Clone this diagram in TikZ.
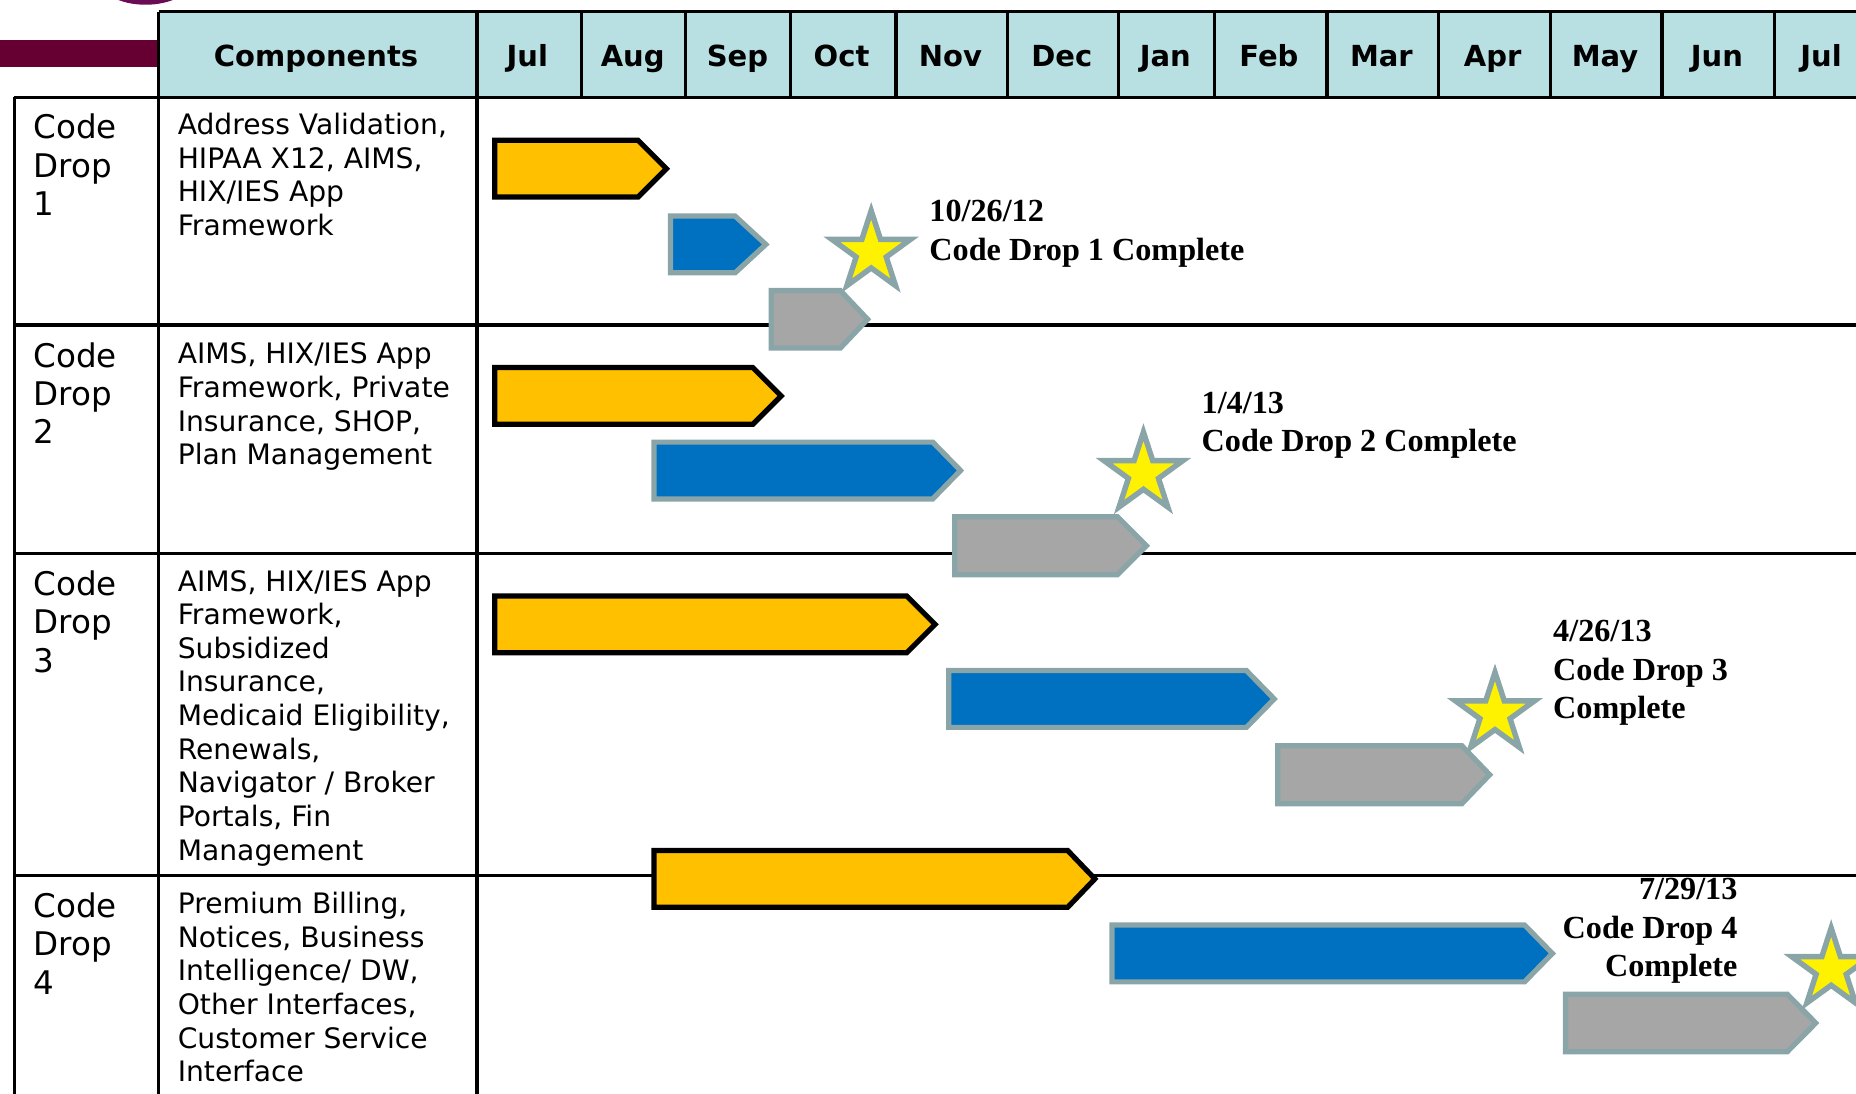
\documentclass[tikz,border=0pt]{standalone}
\usepackage{fontspec}
\setmainfont{DejaVu Sans}
\newfontfamily\serifbold[BoldFont=Liberation Serif Bold]{Liberation Serif}
\usetikzlibrary{shapes.geometric}
\definecolor{hdr}{HTML}{B8DFE2}
\definecolor{maroon}{HTML}{660033}
\definecolor{plum}{HTML}{6B0A55}
\definecolor{barY}{HTML}{FFC000}
\definecolor{barB}{HTML}{0070C0}
\definecolor{barG}{HTML}{A6A6A6}
\definecolor{edgeG}{HTML}{8AA5A8}
\tikzset{
  x=1pt,y=-1pt,
  gridline/.style={line width=2.8pt,black},
  ybar/.style={fill=barY,draw=black,line width=4.4pt,line join=miter},
  bbar/.style={fill=barB,draw=edgeG,line width=4.4pt,line join=miter},
  gbar/.style={fill=barG,draw=edgeG,line width=4.4pt,line join=miter},
  milestone/.style={star,star points=5,star point ratio=2.618,draw=edgeG,fill=yellow,line width=4.6pt,minimum size=70pt,inner sep=0pt,outer sep=0pt},
  headtext/.style={anchor=base,inner sep=0pt,font=\fontsize{24.5}{28}\selectfont\bfseries},
  droptext/.style={anchor=north west,align=left,inner sep=0pt,font=\fontsize{27.5}{32.5}\selectfont},
  comptext/.style={anchor=north west,align=left,inner sep=0pt,font=\fontsize{23.8}{28.4}\selectfont},
  notetext/.style={inner sep=0pt,font=\fontsize{27.2}{32.5}\selectfont\serifbold\bfseries}
}
\newcommand{\pbar}[6]{% style, x1, x2, tip start, y1, y2
  \path[#1] (#2,#5) -- (#4,#5) -- (#3,{(#5+#6)/2}) -- (#4,#6) -- (#2,#6) -- cycle;}
\begin{document}
\begin{tikzpicture}
\useasboundingbox (0,0) rectangle (1568,923.4);
% top decoration
\fill[plum] (123,-18) ellipse [x radius=40,y radius=22];
\fill[maroon] (0,34) rectangle (134,57);
% header
\fill[hdr] (134,10) rectangle (1568,82);
\draw[gridline] (134,10) -- (1568,10);
\draw[gridline] (12,82.5) -- (1568,82.5);
\foreach \v in {491,579,668,757,851,945,1026,1121,1215,1310,1404,1499}
  \draw[gridline] (\v,10) -- (\v,82);
\draw[gridline] (134,10) -- (134,924);
\draw[gridline] (403,10) -- (403,924);
\draw[gridline] (12,82) -- (12,924);
\foreach \h in {274.5,467.5,739.5}
  \draw[gridline] (12,\h) -- (1568,\h);
% header text
\node[headtext] (hc) at (267,56) {Components};
\foreach \n/\c/\t in {m1/445.5/Jul,m2/534.5/Aug,m3/623/Sep,m4/711/Oct,m5/803/Nov,m6/897/Dec,m7/984.5/Jan,m8/1072/Feb,m9/1167/Mar,m10/1261/Apr,m11/1356/May,m12/1450.5/Jun,m13/1538.5/Jul}
  \node[headtext] (\n) at (\c,56) {\t};
% first column
\node[droptext] (d1) at (28,96) {Code\\Drop\\1};
\node[droptext] (d2) at (28,289) {Code\\Drop\\2};
\node[droptext] (d3) at (28,482) {Code\\Drop\\3};
\node[droptext] (d4) at (28,754) {Code\\Drop\\4};
% second column
\node[comptext] (c1) at (150,95.5) {Address Validation,\\HIPAA X12, AIMS,\\HIX/IES App\\Framework};
\node[comptext] (c2) at (150,289.5) {AIMS, HIX/IES App\\Framework, Private\\Insurance, SHOP,\\Plan Management};
\node[comptext] (c3) at (150,481.5) {AIMS, HIX/IES App\\Framework,\\Subsidized\\Insurance,\\Medicaid Eligibility,\\Renewals,\\Navigator / Broker\\Portals, Fin\\Management};
\node[comptext] (c4) at (150,753.5) {Premium Billing,\\Notices, Business\\Intelligence/ DW,\\Other Interfaces,\\Customer Service\\Interface};
% stars
\node[milestone] (s1) at (736,213) {};
\node[milestone] (s2) at (966,400) {};
\node[milestone] (s3) at (1263,603) {};
\node[milestone] (s4) at (1547,819) {};
% bars
\pbar{ybar}{418}{563}{539}{118.5}{166.5}
\pbar{bbar}{566.5}{647}{621}{182.5}{230.5}
\pbar{gbar}{651.5}{733}{710}{245.5}{294}
\pbar{ybar}{418}{660}{636}{310.5}{358.5}
\pbar{bbar}{552.5}{811.5}{788}{373.5}{421.5}
\pbar{gbar}{806.5}{968.5}{944}{436.5}{485.5}
\pbar{ybar}{418}{790}{766}{503.5}{551.5}
\pbar{bbar}{801.5}{1076.5}{1053}{566.5}{614.5}
\pbar{gbar}{1079.5}{1258.5}{1235}{630}{679}
\pbar{ybar}{552.5}{925}{902}{718.5}{766.5}
\pbar{bbar}{939.5}{1311.5}{1288}{781.5}{829.5}
\pbar{gbar}{1322.5}{1534}{1510}{840}{888.5}
% notes
\node[notetext,anchor=north west,align=left] (n1) at (785,169) {10/26/12\\Code Drop 1 Complete};
\node[notetext,anchor=north west,align=left] (n2) at (1015,331) {1/4/13\\Code Drop 2 Complete};
\node[notetext,anchor=north west,align=left] (n3) at (1312,524) {4/26/13\\Code Drop 3\\Complete};
\node[notetext,anchor=north east,align=right] (n4) at (1468,742) {7/29/13\\Code Drop 4\\Complete};
\end{tikzpicture}
\end{document}
